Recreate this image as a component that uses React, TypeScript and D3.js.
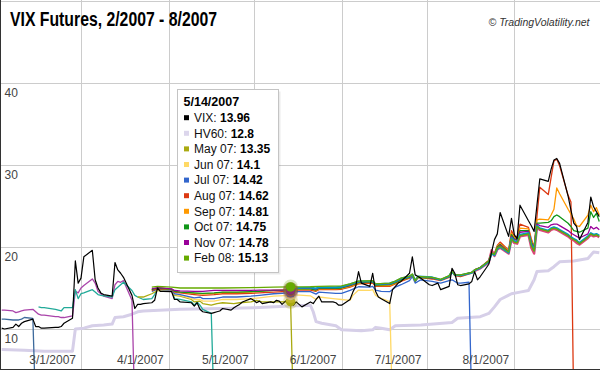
import React from "react";
import * as d3 from "d3";

type Pt = [string, number];

const monthTicks = ["2007-03-01", "2007-04-01", "2007-05-01", "2007-06-01", "2007-07-01", "2007-08-01"];
const monthLabels = ["3/1/2007", "4/1/2007", "5/1/2007", "6/1/2007", "7/1/2007", "8/1/2007"];
const yGrid = [10, 20, 30, 40, 50];
const yLabels = [10, 20, 30, 40];
const hoverDate = "2007-05-14";
const hoverLabel = "5/14/2007";

const vix: Pt[] = [
  ["2007-02-01", 10.1], ["2007-02-02", 10.0], ["2007-02-05", 10.2], ["2007-02-06", 10.6], ["2007-02-07", 10.3],
  ["2007-02-08", 10.7], ["2007-02-09", 10.9], ["2007-02-12", 11.2], ["2007-02-13", 10.3], ["2007-02-14", 10.3],
  ["2007-02-15", 10.1], ["2007-02-16", 10.1], ["2007-02-20", 10.2], ["2007-02-21", 10.2], ["2007-02-22", 10.3],
  ["2007-02-23", 10.7], ["2007-02-26", 11.3], ["2007-02-27", 18.3], ["2007-02-28", 15.6], ["2007-03-01", 16.2],
  ["2007-03-02", 18.8], ["2007-03-05", 19.6], ["2007-03-06", 16.0], ["2007-03-07", 15.0], ["2007-03-08", 14.4],
  ["2007-03-09", 14.2], ["2007-03-12", 14.0], ["2007-03-13", 18.1], ["2007-03-14", 17.2], ["2007-03-15", 16.8],
  ["2007-03-16", 16.3], ["2007-03-19", 14.1], ["2007-03-20", 12.5], ["2007-03-21", 13.0], ["2007-03-22", 13.0],
  ["2007-03-23", 13.1], ["2007-03-26", 13.2], ["2007-03-27", 13.5], ["2007-03-28", 15.0], ["2007-03-29", 14.6],
  ["2007-03-30", 14.6], ["2007-04-02", 14.55], ["2007-04-03", 13.6], ["2007-04-04", 13.6], ["2007-04-05", 13.3],
  ["2007-04-09", 13.2], ["2007-04-10", 12.8], ["2007-04-11", 13.2], ["2007-04-12", 12.4], ["2007-04-13", 12.1],
  ["2007-04-16", 11.9], ["2007-04-17", 12.0], ["2007-04-18", 12.1], ["2007-04-19", 12.2], ["2007-04-20", 12.5],
  ["2007-04-23", 12.3], ["2007-04-24", 12.6], ["2007-04-25", 12.8], ["2007-04-26", 13.0], ["2007-04-27", 13.3],
  ["2007-04-30", 13.7], ["2007-05-01", 13.5], ["2007-05-02", 13.2], ["2007-05-03", 13.4], ["2007-05-04", 13.1],
  ["2007-05-07", 13.3], ["2007-05-08", 13.2], ["2007-05-09", 13.5], ["2007-05-10", 13.4], ["2007-05-11", 13.0],
  ["2007-05-14", 13.96], ["2007-05-15", 12.9], ["2007-05-16", 13.3], ["2007-05-17", 13.0], ["2007-05-18", 12.7],
  ["2007-05-21", 13.3], ["2007-05-22", 13.1], ["2007-05-23", 13.6], ["2007-05-24", 14.0], ["2007-05-25", 13.3],
  ["2007-05-29", 13.3], ["2007-05-30", 13.2], ["2007-05-31", 12.9], ["2007-06-01", 12.9], ["2007-06-04", 13.6],
  ["2007-06-05", 14.5], ["2007-06-06", 15.2], ["2007-06-07", 17.0], ["2007-06-08", 15.6], ["2007-06-11", 15.2],
  ["2007-06-12", 16.8], ["2007-06-13", 14.6], ["2007-06-14", 13.9], ["2007-06-15", 13.7], ["2007-06-18", 13.1],
  ["2007-06-19", 14.8], ["2007-06-20", 15.2], ["2007-06-21", 15.6], ["2007-06-22", 15.8], ["2007-06-25", 16.8],
  ["2007-06-26", 18.8], ["2007-06-27", 16.6], ["2007-06-28", 16.4], ["2007-06-29", 16.2], ["2007-07-02", 15.4],
  ["2007-07-03", 15.3], ["2007-07-05", 15.6], ["2007-07-06", 14.8], ["2007-07-09", 15.2], ["2007-07-10", 17.4],
  ["2007-07-11", 16.8], ["2007-07-12", 15.4], ["2007-07-13", 15.3], ["2007-07-16", 15.5], ["2007-07-17", 15.8],
  ["2007-07-18", 17.0], ["2007-07-19", 16.0], ["2007-07-20", 16.4], ["2007-07-23", 17.9], ["2007-07-24", 19.4],
  ["2007-07-25", 20.9], ["2007-07-26", 21.6], ["2007-07-27", 24.2], ["2007-07-30", 21.3], ["2007-07-31", 23.5],
  ["2007-08-01", 21.5], ["2007-08-02", 21.0], ["2007-08-03", 25.1], ["2007-08-06", 23.2], ["2007-08-07", 22.6],
  ["2007-08-08", 21.9], ["2007-08-09", 25.1], ["2007-08-10", 28.3], ["2007-08-13", 28.0], ["2007-08-14", 29.5],
  ["2007-08-15", 30.6], ["2007-08-16", 30.8], ["2007-08-17", 30.2], ["2007-08-20", 26.2], ["2007-08-21", 24.5],
  ["2007-08-22", 22.9], ["2007-08-23", 22.5], ["2007-08-24", 20.9], ["2007-08-27", 23.0], ["2007-08-28", 26.1],
  ["2007-08-29", 24.9], ["2007-08-30", 24.3], ["2007-08-31", 23.7],
];

const hv60: Pt[] = [
  ["2007-02-01", 7.5], ["2007-02-09", 7.4], ["2007-02-16", 7.3], ["2007-02-23", 7.3], ["2007-02-26", 7.3],
  ["2007-02-27", 10.0], ["2007-03-02", 10.1], ["2007-03-05", 10.4], ["2007-03-09", 10.5], ["2007-03-12", 10.6],
  ["2007-03-13", 11.4], ["2007-03-16", 11.5], ["2007-03-19", 11.8], ["2007-03-21", 12.1], ["2007-03-23", 12.2],
  ["2007-04-05", 12.4], ["2007-04-20", 12.5], ["2007-05-01", 12.6], ["2007-05-14", 12.8], ["2007-05-21", 12.9],
  ["2007-05-22", 12.1], ["2007-05-23", 10.9], ["2007-05-25", 10.7], ["2007-05-30", 10.4], ["2007-06-01", 9.9],
  ["2007-06-08", 9.8], ["2007-06-12", 9.9], ["2007-06-13", 10.2], ["2007-06-15", 10.1], ["2007-06-18", 9.9],
  ["2007-06-20", 10.4], ["2007-06-29", 10.5], ["2007-07-10", 10.8], ["2007-07-12", 11.3], ["2007-07-20", 11.5],
  ["2007-07-23", 11.9], ["2007-07-25", 12.7], ["2007-07-27", 13.6], ["2007-07-31", 14.3], ["2007-08-03", 14.5],
  ["2007-08-06", 14.7], ["2007-08-08", 16.0], ["2007-08-09", 17.0], ["2007-08-13", 17.1], ["2007-08-15", 17.6],
  ["2007-08-17", 18.2], ["2007-08-22", 18.3], ["2007-08-27", 18.6], ["2007-08-29", 19.4], ["2007-08-31", 19.3],
];

const feb07: Pt[] = [
  ["2007-02-01", 11.2], ["2007-02-02", 11.2], ["2007-02-05", 11.1], ["2007-02-06", 11.1], ["2007-02-07", 11.1],
  ["2007-02-08", 11.2], ["2007-02-09", 11.4], ["2007-02-12", 11.3], ["2007-02-13", 0],
];

const mar07: Pt[] = [
  ["2007-02-01", 12.3], ["2007-02-02", 12.3], ["2007-02-05", 12.2], ["2007-02-06", 12.0], ["2007-02-07", 12.1],
  ["2007-02-08", 12.2], ["2007-02-09", 12.3], ["2007-02-12", 12.4], ["2007-02-13", 12.1], ["2007-02-14", 11.8],
  ["2007-02-15", 11.7], ["2007-02-16", 11.7], ["2007-02-20", 11.5], ["2007-02-21", 11.5], ["2007-02-22", 11.4],
  ["2007-02-23", 11.4], ["2007-02-26", 11.6], ["2007-02-27", 14.6], ["2007-02-28", 14.4], ["2007-03-01", 15.0],
  ["2007-03-02", 15.3], ["2007-03-05", 16.1], ["2007-03-06", 15.6], ["2007-03-07", 14.6], ["2007-03-08", 14.3],
  ["2007-03-09", 14.0], ["2007-03-12", 13.7], ["2007-03-13", 15.4], ["2007-03-14", 15.8], ["2007-03-15", 15.7],
  ["2007-03-16", 15.9], ["2007-03-19", 13.5], ["2007-03-20", 0],
];

const apr07: Pt[] = [
  ["2007-02-14", 12.7], ["2007-02-15", 12.6], ["2007-02-16", 12.6], ["2007-02-20", 12.4], ["2007-02-21", 12.3],
  ["2007-02-22", 12.2], ["2007-02-23", 12.6], ["2007-02-26", 12.6], ["2007-02-27", 14.8], ["2007-02-28", 13.7],
  ["2007-03-01", 14.3], ["2007-03-02", 14.4], ["2007-03-05", 14.8], ["2007-03-06", 14.5], ["2007-03-07", 14.2],
  ["2007-03-08", 14.1], ["2007-03-12", 13.9], ["2007-03-13", 14.8], ["2007-03-14", 15.1], ["2007-03-15", 15.4],
  ["2007-03-16", 15.7], ["2007-03-19", 14.7], ["2007-03-20", 14.1], ["2007-03-21", 13.9], ["2007-03-23", 13.6],
  ["2007-03-26", 13.7], ["2007-03-27", 14.2], ["2007-03-28", 14.9], ["2007-03-30", 14.8], ["2007-04-02", 14.8],
  ["2007-04-03", 13.7], ["2007-04-05", 13.6], ["2007-04-09", 13.3], ["2007-04-10", 12.9], ["2007-04-11", 13.3],
  ["2007-04-12", 12.9], ["2007-04-13", 12.4], ["2007-04-16", 11.9], ["2007-04-17", 0],
];

const may07: Pt[] = [
  ["2007-03-21", 13.9], ["2007-03-22", 13.9], ["2007-03-23", 13.9], ["2007-03-26", 14.3], ["2007-03-28", 14.7],
  ["2007-03-30", 14.6], ["2007-04-02", 14.6], ["2007-04-03", 14.1], ["2007-04-05", 14.0], ["2007-04-09", 13.6],
  ["2007-04-10", 13.3], ["2007-04-12", 13.4], ["2007-04-13", 13.1], ["2007-04-16", 12.9], ["2007-04-18", 13.1],
  ["2007-04-20", 13.2], ["2007-04-24", 13.1], ["2007-04-26", 13.2], ["2007-04-30", 13.3], ["2007-05-02", 13.5],
  ["2007-05-04", 13.3], ["2007-05-08", 13.3], ["2007-05-10", 13.3], ["2007-05-14", 13.35], ["2007-05-15", 0],
];

const jun07: Pt[] = [
  ["2007-03-26", 14.6], ["2007-03-28", 14.8], ["2007-04-02", 14.7], ["2007-04-03", 14.2], ["2007-04-05", 14.1],
  ["2007-04-10", 13.6], ["2007-04-12", 13.6], ["2007-04-13", 13.4], ["2007-04-17", 13.4], ["2007-04-20", 13.6],
  ["2007-04-25", 13.6], ["2007-04-30", 13.7], ["2007-05-03", 13.8], ["2007-05-08", 14.0], ["2007-05-14", 14.1],
  ["2007-05-16", 14.15], ["2007-05-21", 14.05], ["2007-05-23", 13.6], ["2007-05-24", 13.9], ["2007-05-29", 13.7],
  ["2007-06-01", 13.6], ["2007-06-04", 13.5], ["2007-06-05", 14.1], ["2007-06-07", 14.75], ["2007-06-11", 14.7],
  ["2007-06-12", 14.8], ["2007-06-13", 14.1], ["2007-06-15", 13.75], ["2007-06-18", 13.35], ["2007-06-19", 0],
];

const jul07: Pt[] = [
  ["2007-03-26", 14.6], ["2007-03-28", 14.85], ["2007-04-02", 14.75], ["2007-04-03", 14.3], ["2007-04-05", 14.2],
  ["2007-04-10", 13.8], ["2007-04-12", 13.9], ["2007-04-13", 13.7], ["2007-04-17", 13.7], ["2007-04-20", 13.9],
  ["2007-04-25", 13.9], ["2007-04-30", 14.0], ["2007-05-03", 14.1], ["2007-05-08", 14.3], ["2007-05-14", 14.42],
  ["2007-05-16", 14.55], ["2007-05-21", 14.55], ["2007-05-23", 14.25], ["2007-05-24", 14.5], ["2007-05-30", 14.35],
  ["2007-06-01", 14.35], ["2007-06-04", 14.7], ["2007-06-07", 15.15], ["2007-06-11", 15.1], ["2007-06-12", 15.2],
  ["2007-06-13", 14.75], ["2007-06-15", 14.6], ["2007-06-18", 14.55], ["2007-06-20", 15.1], ["2007-06-22", 15.4],
  ["2007-06-25", 15.9], ["2007-06-26", 16.4], ["2007-06-27", 15.6], ["2007-06-29", 16.0], ["2007-07-03", 15.8],
  ["2007-07-06", 15.6], ["2007-07-09", 15.9], ["2007-07-10", 16.0], ["2007-07-12", 15.6], ["2007-07-13", 15.6],
  ["2007-07-16", 15.7], ["2007-07-17", 0],
];

const aug07: Pt[] = [
  ["2007-03-26", 14.7], ["2007-03-28", 14.9], ["2007-04-02", 14.8], ["2007-04-03", 14.5], ["2007-04-05", 14.4],
  ["2007-04-10", 14.2], ["2007-04-13", 14.1], ["2007-04-17", 14.2], ["2007-04-20", 14.3], ["2007-04-25", 14.3],
  ["2007-04-30", 14.35], ["2007-05-03", 14.4], ["2007-05-08", 14.5], ["2007-05-14", 14.62], ["2007-05-16", 14.75],
  ["2007-05-21", 14.75], ["2007-05-23", 14.6], ["2007-05-24", 14.8], ["2007-05-30", 14.8], ["2007-06-01", 14.85],
  ["2007-06-04", 15.1], ["2007-06-07", 15.5], ["2007-06-12", 15.6], ["2007-06-13", 15.2], ["2007-06-18", 15.2],
  ["2007-06-20", 15.5], ["2007-06-22", 15.8], ["2007-06-25", 16.2], ["2007-06-26", 16.6], ["2007-06-27", 15.8],
  ["2007-06-28", 16.3], ["2007-07-03", 16.1], ["2007-07-06", 15.9], ["2007-07-09", 16.3], ["2007-07-10", 17.0],
  ["2007-07-11", 16.5], ["2007-07-13", 16.4], ["2007-07-17", 16.8], ["2007-07-18", 17.2], ["2007-07-20", 17.5],
  ["2007-07-23", 18.4], ["2007-07-24", 19.5], ["2007-07-25", 19.2], ["2007-07-26", 20.2], ["2007-07-27", 20.6],
  ["2007-07-30", 19.6], ["2007-07-31", 22.0], ["2007-08-01", 21.3], ["2007-08-02", 21.2], ["2007-08-03", 22.8],
  ["2007-08-06", 22.4], ["2007-08-07", 21.0], ["2007-08-08", 20.0], ["2007-08-09", 23.7], ["2007-08-10", 27.3],
  ["2007-08-13", 26.4], ["2007-08-14", 28.5], ["2007-08-15", 30.5], ["2007-08-16", 30.7], ["2007-08-17", 29.9],
  ["2007-08-20", 26.3], ["2007-08-21", 25.5], ["2007-08-22", 0],
];

const sep07: Pt[] = [
  ["2007-03-26", 14.8], ["2007-03-28", 15.0], ["2007-04-02", 14.85], ["2007-04-03", 14.6], ["2007-04-05", 14.5],
  ["2007-04-10", 14.35], ["2007-04-13", 14.3], ["2007-04-17", 14.35], ["2007-04-20", 14.45], ["2007-04-25", 14.45],
  ["2007-04-30", 14.5], ["2007-05-03", 14.6], ["2007-05-08", 14.7], ["2007-05-14", 14.81], ["2007-05-16", 14.85],
  ["2007-05-21", 14.85], ["2007-05-23", 14.7], ["2007-05-24", 14.9], ["2007-05-30", 14.9], ["2007-06-01", 14.95],
  ["2007-06-04", 15.2], ["2007-06-07", 15.6], ["2007-06-12", 15.7], ["2007-06-13", 15.3], ["2007-06-18", 15.3],
  ["2007-06-20", 15.6], ["2007-06-22", 15.9], ["2007-06-25", 16.3], ["2007-06-26", 16.6], ["2007-06-27", 15.8],
  ["2007-06-28", 16.3], ["2007-07-03", 16.2], ["2007-07-06", 16.0], ["2007-07-09", 16.4], ["2007-07-10", 17.0],
  ["2007-07-11", 16.6], ["2007-07-13", 16.5], ["2007-07-17", 16.9], ["2007-07-18", 17.2], ["2007-07-20", 17.5],
  ["2007-07-23", 18.3], ["2007-07-24", 19.4], ["2007-07-25", 19.2], ["2007-07-26", 20.1], ["2007-07-27", 20.4],
  ["2007-07-30", 19.5], ["2007-07-31", 21.7], ["2007-08-01", 21.1], ["2007-08-02", 21.0], ["2007-08-03", 22.3],
  ["2007-08-06", 22.2], ["2007-08-07", 20.8], ["2007-08-08", 19.9], ["2007-08-09", 23.3], ["2007-08-10", 23.4],
  ["2007-08-13", 23.3], ["2007-08-14", 23.9], ["2007-08-15", 24.6], ["2007-08-16", 27.2], ["2007-08-17", 26.5],
  ["2007-08-20", 24.6], ["2007-08-21", 24.0], ["2007-08-22", 23.4], ["2007-08-23", 22.6], ["2007-08-24", 22.5],
  ["2007-08-27", 23.9], ["2007-08-28", 25.1], ["2007-08-29", 24.3], ["2007-08-30", 24.8], ["2007-08-31", 23.9],
];

const oct07: Pt[] = [
  ["2007-03-26", 14.8], ["2007-03-28", 15.0], ["2007-04-02", 14.85], ["2007-04-03", 14.6], ["2007-04-05", 14.5],
  ["2007-04-10", 14.4], ["2007-04-13", 14.35], ["2007-04-17", 14.4], ["2007-04-20", 14.5], ["2007-04-25", 14.5],
  ["2007-04-30", 14.55], ["2007-05-03", 14.6], ["2007-05-08", 14.7], ["2007-05-14", 14.75], ["2007-05-16", 14.9],
  ["2007-05-21", 14.9], ["2007-05-23", 14.75], ["2007-05-24", 14.95], ["2007-05-30", 14.95], ["2007-06-01", 15.0],
  ["2007-06-04", 15.3], ["2007-06-07", 15.65], ["2007-06-12", 15.75], ["2007-06-13", 15.35], ["2007-06-18", 15.4],
  ["2007-06-20", 15.65], ["2007-06-22", 16.0], ["2007-06-25", 16.3], ["2007-06-26", 16.6], ["2007-06-27", 15.85],
  ["2007-06-28", 16.3], ["2007-07-03", 16.2], ["2007-07-06", 16.0], ["2007-07-09", 16.4], ["2007-07-10", 17.0],
  ["2007-07-11", 16.6], ["2007-07-13", 16.5], ["2007-07-17", 16.9], ["2007-07-18", 17.2], ["2007-07-20", 17.5],
  ["2007-07-23", 18.3], ["2007-07-24", 19.3], ["2007-07-25", 19.1], ["2007-07-26", 20.0], ["2007-07-27", 20.3],
  ["2007-07-30", 19.4], ["2007-07-31", 21.5], ["2007-08-01", 21.0], ["2007-08-02", 20.9], ["2007-08-03", 22.0],
  ["2007-08-06", 22.0], ["2007-08-07", 20.6], ["2007-08-08", 19.9], ["2007-08-09", 22.9], ["2007-08-10", 22.9],
  ["2007-08-13", 23.0], ["2007-08-14", 23.2], ["2007-08-15", 23.7], ["2007-08-16", 23.9], ["2007-08-17", 23.7],
  ["2007-08-20", 22.9], ["2007-08-21", 22.5], ["2007-08-22", 22.0], ["2007-08-23", 21.9], ["2007-08-24", 21.8],
  ["2007-08-27", 22.3], ["2007-08-28", 24.3], ["2007-08-29", 23.6], ["2007-08-30", 24.1], ["2007-08-31", 23.1],
];

const nov07: Pt[] = [
  ["2007-03-26", 14.9], ["2007-03-28", 15.05], ["2007-04-02", 14.9], ["2007-04-03", 14.7], ["2007-04-05", 14.65],
  ["2007-04-10", 14.6], ["2007-04-13", 14.6], ["2007-04-17", 14.7], ["2007-04-20", 14.7], ["2007-04-25", 14.7],
  ["2007-04-30", 14.7], ["2007-05-03", 14.75], ["2007-05-08", 14.75], ["2007-05-14", 14.78], ["2007-05-16", 14.95],
  ["2007-05-21", 15.0], ["2007-05-23", 14.85], ["2007-05-24", 15.05], ["2007-05-30", 15.05], ["2007-06-01", 15.1],
  ["2007-06-04", 15.35], ["2007-06-07", 15.75], ["2007-06-12", 15.8], ["2007-06-13", 15.4], ["2007-06-18", 15.5],
  ["2007-06-20", 15.75], ["2007-06-22", 16.1], ["2007-06-25", 16.35], ["2007-06-26", 16.65], ["2007-06-27", 15.85],
  ["2007-06-28", 16.35], ["2007-07-03", 16.25], ["2007-07-06", 16.0], ["2007-07-09", 16.45], ["2007-07-10", 17.05],
  ["2007-07-11", 16.6], ["2007-07-13", 16.55], ["2007-07-17", 16.9], ["2007-07-18", 17.2], ["2007-07-20", 17.5],
  ["2007-07-23", 18.3], ["2007-07-24", 19.3], ["2007-07-25", 19.1], ["2007-07-26", 19.9], ["2007-07-27", 20.2],
  ["2007-07-30", 19.4], ["2007-07-31", 21.3], ["2007-08-01", 20.9], ["2007-08-02", 20.8], ["2007-08-03", 21.8],
  ["2007-08-06", 21.9], ["2007-08-07", 20.5], ["2007-08-08", 19.8], ["2007-08-09", 22.8], ["2007-08-10", 22.6],
  ["2007-08-13", 22.4], ["2007-08-14", 22.7], ["2007-08-15", 22.8], ["2007-08-16", 22.8], ["2007-08-17", 22.6],
  ["2007-08-20", 22.0], ["2007-08-21", 21.7], ["2007-08-22", 21.5], ["2007-08-23", 21.3], ["2007-08-24", 21.1],
  ["2007-08-27", 21.6], ["2007-08-28", 22.5], ["2007-08-29", 22.2], ["2007-08-30", 22.4], ["2007-08-31", 22.1],
];

const dec07: Pt[] = [
  ["2007-05-16", 15.0], ["2007-05-21", 15.05], ["2007-05-23", 14.95], ["2007-05-24", 15.1], ["2007-05-30", 15.1],
  ["2007-06-01", 15.15], ["2007-06-04", 15.45], ["2007-06-07", 15.8], ["2007-06-12", 15.85], ["2007-06-13", 15.45],
  ["2007-06-18", 15.55], ["2007-06-20", 15.8], ["2007-06-22", 16.15], ["2007-06-25", 16.4], ["2007-06-26", 16.65],
  ["2007-06-27", 15.9], ["2007-06-28", 16.4], ["2007-07-03", 16.3], ["2007-07-06", 16.0], ["2007-07-09", 16.45],
  ["2007-07-10", 17.0], ["2007-07-11", 16.6], ["2007-07-13", 16.55], ["2007-07-17", 16.85], ["2007-07-18", 17.15],
  ["2007-07-20", 17.45], ["2007-07-23", 18.2], ["2007-07-24", 19.2], ["2007-07-25", 19.0], ["2007-07-26", 19.8],
  ["2007-07-27", 20.0], ["2007-07-30", 19.3], ["2007-07-31", 21.1], ["2007-08-01", 20.7], ["2007-08-02", 20.6],
  ["2007-08-03", 21.5], ["2007-08-06", 21.7], ["2007-08-07", 20.3], ["2007-08-08", 19.6], ["2007-08-09", 22.6],
  ["2007-08-10", 22.3], ["2007-08-13", 22.0], ["2007-08-14", 22.3], ["2007-08-15", 22.4], ["2007-08-16", 22.3],
  ["2007-08-17", 22.1], ["2007-08-20", 21.5], ["2007-08-21", 21.2], ["2007-08-22", 21.0], ["2007-08-23", 20.8],
  ["2007-08-24", 20.5], ["2007-08-27", 21.3], ["2007-08-28", 21.7], ["2007-08-29", 21.5], ["2007-08-30", 21.6],
  ["2007-08-31", 21.4],
];

const jan08: Pt[] = [
  ["2007-07-18", 17.1], ["2007-07-20", 17.4], ["2007-07-23", 18.1], ["2007-07-24", 19.6], ["2007-07-25", 18.9],
  ["2007-07-26", 19.7], ["2007-07-27", 19.9], ["2007-07-30", 19.2], ["2007-07-31", 20.9], ["2007-08-01", 20.5],
  ["2007-08-02", 20.4], ["2007-08-03", 21.3], ["2007-08-06", 21.5], ["2007-08-07", 19.9], ["2007-08-08", 19.2],
  ["2007-08-09", 22.4], ["2007-08-10", 22.1], ["2007-08-13", 21.8], ["2007-08-14", 22.1], ["2007-08-15", 22.2],
  ["2007-08-16", 22.1], ["2007-08-17", 21.9], ["2007-08-20", 21.3], ["2007-08-21", 21.0], ["2007-08-22", 20.8],
  ["2007-08-23", 20.5], ["2007-08-24", 20.3], ["2007-08-27", 21.1], ["2007-08-28", 21.5], ["2007-08-29", 21.3],
  ["2007-08-30", 21.4], ["2007-08-31", 21.2],
];

const feb08: Pt[] = [
  ["2007-03-26", 15.1], ["2007-03-28", 15.2], ["2007-04-02", 15.1], ["2007-04-05", 15.0], ["2007-04-10", 15.0],
  ["2007-04-13", 15.0], ["2007-04-20", 15.0], ["2007-04-30", 15.05], ["2007-05-08", 15.1], ["2007-05-14", 15.13],
  ["2007-05-21", 15.15], ["2007-05-24", 15.2], ["2007-06-01", 15.25], ["2007-06-04", 15.5], ["2007-06-07", 15.85],
  ["2007-06-12", 15.9], ["2007-06-13", 15.5], ["2007-06-18", 15.6], ["2007-06-20", 15.85], ["2007-06-22", 16.2],
  ["2007-06-25", 16.45], ["2007-06-26", 16.7], ["2007-06-27", 15.9], ["2007-06-28", 16.4], ["2007-07-03", 16.3],
  ["2007-07-06", 16.05], ["2007-07-09", 16.5], ["2007-07-10", 17.1], ["2007-07-11", 16.6], ["2007-07-13", 16.6],
  ["2007-07-17", 16.9], ["2007-07-18", 17.2], ["2007-07-20", 17.5], ["2007-07-23", 18.3], ["2007-07-24", 19.3],
  ["2007-07-25", 19.1], ["2007-07-26", 19.9], ["2007-07-27", 20.1], ["2007-07-30", 19.4], ["2007-07-31", 21.0],
  ["2007-08-01", 20.6], ["2007-08-02", 20.5], ["2007-08-03", 21.4], ["2007-08-06", 21.6], ["2007-08-07", 20.2],
  ["2007-08-08", 19.5], ["2007-08-09", 22.5], ["2007-08-10", 22.2], ["2007-08-13", 21.9], ["2007-08-14", 22.2],
  ["2007-08-15", 22.3], ["2007-08-16", 22.2], ["2007-08-17", 22.0], ["2007-08-20", 21.4], ["2007-08-21", 21.1],
  ["2007-08-22", 20.9], ["2007-08-23", 20.7], ["2007-08-24", 20.4], ["2007-08-27", 21.2], ["2007-08-28", 21.6],
  ["2007-08-29", 21.4], ["2007-08-30", 21.5], ["2007-08-31", 21.3],
];

const lineSeries = [
  { name: "HV60", data: hv60, color: "#d6cfe8", width: 3 },
  { name: "Feb 07", data: feb07, color: "#3d6a9c", width: 1.3 },
  { name: "Mar 07", data: mar07, color: "#aa44aa", width: 1.3 },
  { name: "Apr 07", data: apr07, color: "#22aa99", width: 1.3 },
  { name: "May 07", data: may07, color: "#aaaa11", width: 1.3 },
  { name: "Jun 07", data: jun07, color: "#ffd966", width: 1.3 },
  { name: "Jul 07", data: jul07, color: "#3366cc", width: 1.3 },
  { name: "Aug 07", data: aug07, color: "#dc3912", width: 1.3 },
  { name: "Sep 07", data: sep07, color: "#ff9900", width: 1.3 },
  { name: "Oct 07", data: oct07, color: "#109618", width: 1.3 },
  { name: "Nov 07", data: nov07, color: "#990099", width: 1.3 },
  { name: "Jan 08", data: jan08, color: "#dd4477", width: 2.4 },
  { name: "Dec 07", data: dec07, color: "#0099c6", width: 2 },
  { name: "Feb 08", data: feb08, color: "#66aa00", width: 1.3 },
  { name: "VIX", data: vix, color: "#000000", width: 1.2 },
];

const tooltipRows = [
  { label: "VIX", data: vix, color: "#000000", dot: false },
  { label: "HV60", data: hv60, color: "#dcd6ec", dot: false },
  { label: "May 07", data: may07, color: "#aaaa11", dot: true },
  { label: "Jun 07", data: jun07, color: "#ffd966", dot: true },
  { label: "Jul 07", data: jul07, color: "#3366cc", dot: true },
  { label: "Aug 07", data: aug07, color: "#dc3912", dot: true },
  { label: "Sep 07", data: sep07, color: "#ff9900", dot: true },
  { label: "Oct 07", data: oct07, color: "#109618", dot: true },
  { label: "Nov 07", data: nov07, color: "#990099", dot: true },
  { label: "Feb 08", data: feb08, color: "#66aa00", dot: true },
];

const FONT = "'Liberation Sans', Arial, Helvetica, sans-serif";

export default function App() {
  const parse = d3.utcParse("%Y-%m-%d");
  const x = d3
    .scaleUtc()
    .domain([parse("2007-03-01") as Date, parse("2007-08-01") as Date])
    .range([81, 514.3]);
  const y = d3.scaleLinear().domain([10, 40]).range([329, 83]);
  const line = d3
    .line<Pt>()
    .x((d) => x(parse(d[0]) as Date))
    .y((d) => y(d[1]));

  const hx = x(parse(hoverDate) as Date);
  const valueAt = (data: Pt[]) => {
    const p = data.find((d) => d[0] === hoverDate);
    return p ? p[1] : NaN;
  };

  const tipX = 177.5;
  const tipY = 89.5;
  const tipW = 101;
  const tipH = 183;
  const rowH = 15.6;

  return (
    <svg
      width={600}
      height={371}
      viewBox="0 0 600 371"
      style={{ position: "absolute", left: 0, top: 0, display: "block", background: "#fff" }}
    >
      <defs>
        <clipPath id="plotClip">
          <rect x={1} y={0} width={599} height={369} />
        </clipPath>
      </defs>
      <rect x={0} y={0} width={600} height={371} fill="#ffffff" />
      {/* grid */}
      {yGrid.map((v) => (
        <line key={"h" + v} x1={0} x2={600} y1={Math.round(y(v)) + 0.5} y2={Math.round(y(v)) + 0.5} stroke="#cccccc" strokeWidth={1} />
      ))}
      {monthTicks.map((m) => {
        const px = Math.round(x(parse(m) as Date)) + 0.5;
        return <line key={"v" + m} x1={px} x2={px} y1={0} y2={369} stroke="#cccccc" strokeWidth={1} />;
      })}
      {/* lines */}
      <g clipPath="url(#plotClip)" fill="none" strokeLinejoin="round">
        {lineSeries.map((s) => (
          <path key={s.name} d={line(s.data) || ""} stroke={s.color} strokeWidth={s.width} />
        ))}
      </g>
      {/* axis labels */}
      {yLabels.map((v) => (
        <text key={"yl" + v} x={4.5} y={y(v) + 13.5} fontSize={12} fontFamily={FONT} fill="#444">
          {v}
        </text>
      ))}
      {monthTicks.map((m, i) => (
        <text key={"xl" + m} x={x(parse(m) as Date) - 5} y={364} fontSize={12} fontFamily={FONT} fill="#444" textAnchor="end">
          {monthLabels[i]}
        </text>
      ))}
      {/* frame */}
      <line x1={0.5} x2={0.5} y1={0} y2={370} stroke="#333" strokeWidth={1} />
      <line x1={0} x2={600} y1={369.5} y2={369.5} stroke="#333" strokeWidth={1} />
      {/* hover dots */}
      {tooltipRows
        .filter((r) => r.dot)
        .map((r) => {
          const v = valueAt(r.data);
          return (
            <g key={"dot" + r.label}>
              <circle cx={hx} cy={y(v)} r={7.5} fill={r.color} opacity={0.25} />
              <circle cx={hx} cy={y(v)} r={4.8} fill={r.color} />
            </g>
          );
        })}
      {/* title */}
      <text
        x={10}
        y={25.7}
        fontSize={19.5}
        fontWeight="bold"
        fontFamily="'Liberation Sans Narrow', 'Arial Narrow', 'Liberation Sans', Arial, sans-serif"
        fill="#000"
        textLength={207}
        lengthAdjust="spacingAndGlyphs"
      >
        VIX Futures, 2/2007 - 8/2007
      </text>
      <text x={589.5} y={25.5} fontSize={10.5} fontStyle="italic" fontFamily={FONT} fill="#333" textAnchor="end">
        © TradingVolatility.net
      </text>
      {/* tooltip */}
      <rect x={tipX + 2} y={tipY + 2} width={tipW} height={tipH} fill="#000" opacity={0.08} />
      <rect x={tipX} y={tipY} width={tipW} height={tipH} fill="#fff" stroke="#c4c4c4" strokeWidth={1} />
      <text x={183.5} y={106} fontSize={12.5} fontWeight="bold" fontFamily={FONT} fill="#000">
        {hoverLabel}
      </text>
      {tooltipRows.map((r, i) => {
        const base = 122 + i * rowH;
        const v = valueAt(r.data);
        return (
          <g key={"tr" + r.label}>
            <rect x={184} y={base - 6.8} width={5} height={5} fill={r.color} />
            <text x={194} y={base} fontSize={12} fontFamily={FONT} fill="#111">
              {r.label + ": "}
              <tspan fontWeight="bold" fill="#000">
                {String(v)}
              </tspan>
            </text>
          </g>
        );
      })}
    </svg>
  );
}
